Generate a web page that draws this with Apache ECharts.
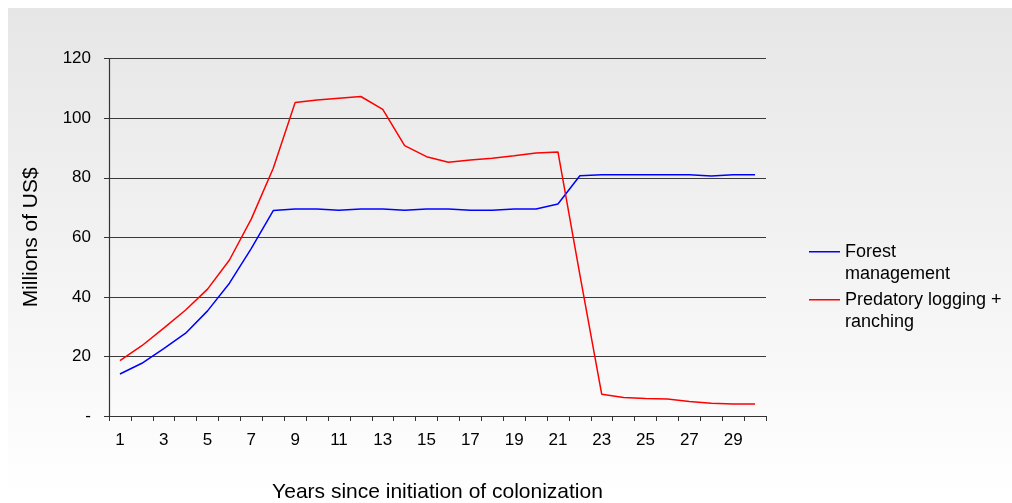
<!DOCTYPE html>
<html>
<head>
<meta charset="utf-8">
<script src="https://cdn.jsdelivr.net/npm/echarts@6/dist/echarts.min.js"></script>
<style>
  html, body { margin: 0; padding: 0; background: #ffffff; }
  #chart { width: 1012px; height: 503px; }
</style>
</head>
<body>
<div id="chart"></div>
<script>
// Years since the start of colonization
const years = Array.from({ length: 30 }, (_, i) => String(i + 1));

// Annual value, millions of US$
const forestManagement = [
  14.1, 17.7, 22.6, 27.8, 35.3, 44.6, 56.3, 69.0, 69.5, 69.5,
  69.1, 69.5, 69.5, 69.1, 69.5, 69.5, 69.1, 69.1, 69.5, 69.5,
  71.2, 80.7, 81.0, 81.0, 81.0, 81.0, 81.0, 80.6, 81.0, 81.0
];
const predatoryLogging = [
  18.6, 23.6, 29.5, 35.6, 42.6, 52.4, 66.2, 83.2, 105.3, 106.1,
  106.7, 107.3, 103.0, 90.8, 87.1, 85.2, 86.0, 86.6, 87.4, 88.3,
  88.7, 47.5, 7.3, 6.2, 5.9, 5.7, 4.9, 4.3, 4.0, 4.0
];

const seriesNames = ['Forest\nmanagement', 'Predatory logging +\nranching'];
const yTicks = { min: 0, max: 120, interval: 20 };

const chart = echarts.init(document.getElementById('chart'));
const font = 'Liberation Sans, Arial, sans-serif';
// legend key: a short stroke level with the first text line
const legendIcon = 'path://M0,10H31V11.6H0Z M0,0H0.01V0.01H0Z M0,44H0.01V44.01H0Z';

chart.setOption({
  backgroundColor: '#ffffff',
  graphic: [{
    type: 'rect',
    z: -10,
    silent: true,
    shape: { x: 8, y: 8, width: 1004, height: 495 },
    style: {
      fill: new echarts.graphic.LinearGradient(0, 0, 0, 1, [
        { offset: 0, color: '#e6e6e6' },
        { offset: 1, color: '#ffffff' }
      ])
    }
  }],
  animation: false,
  textStyle: { fontFamily: font },
  grid: { left: 109, right: 246, top: 58.7, bottom: 87, outerBoundsMode: 'none' },
  legend: {
    orient: 'vertical',
    left: 809,
    top: 241,
    padding: 0,
    itemWidth: 31,
    itemHeight: 44,
    itemGap: 4,
    icon: legendIcon,
    textStyle: { fontSize: 18, lineHeight: 22, color: '#000', fontFamily: font },
    data: seriesNames
  },
  xAxis: {
    type: 'category',
    data: years,
    boundaryGap: true,
    name: 'Years since initiation of colonization',
    nameLocation: 'middle',
    nameGap: 66,
    nameTextStyle: { fontSize: 21, color: '#000', fontFamily: font },
    axisLine: { lineStyle: { color: '#333', width: 1.2 } },
    axisTick: { show: true, interval: 0, length: 5, lineStyle: { color: '#333' } },
    axisLabel: { interval: 1, fontSize: 17, color: '#000', margin: 16, fontFamily: font },
    splitLine: { show: false }
  },
  yAxis: {
    type: 'value',
    min: yTicks.min,
    max: yTicks.max,
    interval: yTicks.interval,
    name: 'Millions of US$',
    nameLocation: 'middle',
    nameGap: 67,
    nameTextStyle: { fontSize: 21, color: '#000', fontFamily: font },
    axisLine: { show: true, lineStyle: { color: '#333', width: 1.2 } },
    axisTick: { show: true, length: 5, lineStyle: { color: '#333' } },
    axisLabel: {
      fontSize: 17, color: '#000', margin: 18, fontFamily: font,
      formatter: v => (v === 0 ? '-' : String(v))
    },
    splitLine: { show: true, lineStyle: { color: '#3a3a3a', width: 1.2 } }
  },
  series: [
    {
      name: seriesNames[0],
      type: 'line',
      data: forestManagement,
      showSymbol: false,
      color: '#0000ff',
      lineStyle: { color: '#0000ff', width: 1.5 }
    },
    {
      name: seriesNames[1],
      type: 'line',
      data: predatoryLogging,
      showSymbol: false,
      color: '#ff0000',
      lineStyle: { color: '#ff0000', width: 1.5 }
    }
  ]
});
</script>
</body>
</html>
